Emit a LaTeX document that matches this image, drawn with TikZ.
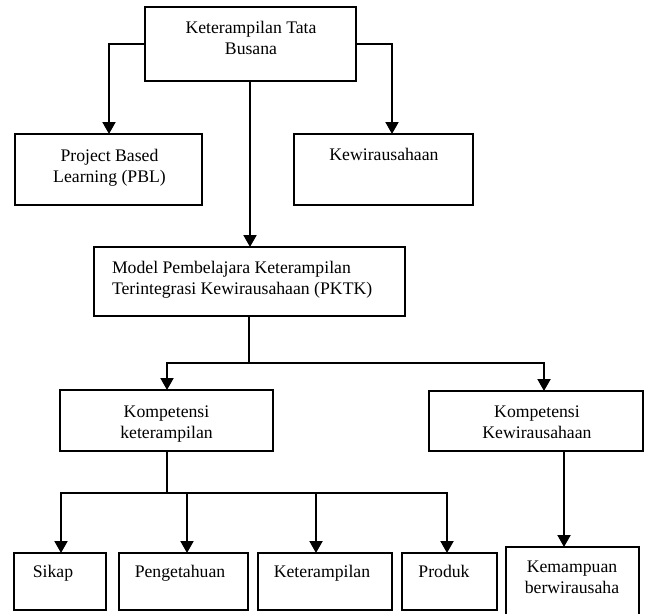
\documentclass[tikz,border=0pt]{standalone}
\usepackage{fontspec}
\setmainfont{Liberation Serif}
\usetikzlibrary{arrows.meta}
\begin{document}
\begin{tikzpicture}[x=1pt,y=-1pt,
  box/.style={draw, line width=2pt, rectangle, inner sep=0pt, outer sep=0pt, anchor=north west},
  txt/.style={inner sep=0pt, outer sep=0pt, font=\fontsize{17.7}{21}\selectfont, align=center, anchor=base},
  conn/.style={line width=2pt},
  arr/.style={line width=2pt, -{Triangle[width=13pt,length=12pt]}}]
\useasboundingbox[fill=white] (0,0) rectangle (645,613);
% boxes
\node[box, minimum width=211pt, minimum height=74pt] (top) at (145,7) {};
\node[box, minimum width=187pt, minimum height=71pt] (pbl) at (15,134) {};
\node[box, minimum width=179pt, minimum height=71pt] (kew) at (294,134) {};
\node[box, minimum width=311pt, minimum height=69pt] (model) at (94,247) {};
\node[box, minimum width=213pt, minimum height=61pt] (kk) at (60,390) {};
\node[box, minimum width=214pt, minimum height=60pt] (kw) at (429,391) {};
\node[box, minimum width=92pt, minimum height=57pt] (sikap) at (14,553) {};
\node[box, minimum width=129pt, minimum height=57pt] (peng) at (119,553) {};
\node[box, minimum width=134pt, minimum height=57pt] (ket) at (258,553) {};
\node[box, minimum width=95pt, minimum height=57pt] (prod) at (402,553) {};
\node[box, minimum width=133pt, minimum height=70pt] (kemp) at (506,547) {};
% texts (base anchor = baseline of the last line)
\node[txt] (topt) at (251,54) {Keterampilan Tata\\Busana};
\node[txt] (pblt) at (109.5,182) {Project Based\\Learning (PBL)};
\node[txt] (kewt) at (384,160) {Kewirausahaan};
\node[txt, align=left, anchor=base west] (modelt) at (112,294) {Model Pembelajara Keterampilan\\Terintegrasi Kewirausahaan (PKTK)};
\node[txt] (kkt) at (166.5,438) {Kompetensi\\keterampilan};
\node[txt] (kwt) at (537,438) {Kompetensi\\Kewirausahaan};
\node[txt] (sikapt) at (53,577) {Sikap};
\node[txt] (pengt) at (180,577) {Pengetahuan};
\node[txt] (kett) at (322,577) {Keterampilan};
\node[txt] (prodt) at (444,577) {Produk};
\node[txt] (kempt) at (572,593) {Kemampuan\\berwirausaha};
% junction coordinates
\coordinate (j1) at (249,363);
\coordinate (j2) at (167,493);
% connectors
\draw[arr] (top.west |- 0,44) -| (pbl.north -| 109,0);
\draw[arr] (top.east |- 0,44) -| (kew.north -| 392,0);
\draw[arr] (top.south -| 250,0) -- (model.north -| 250,0);
\draw[conn] (model.south -| j1) -- (j1);
\draw[arr] (j1) -| (kk.north -| 167,0);
\draw[arr] (j1) -| (kw.north -| 544,0);
\draw[conn] (kk.south -| j2) -- (j2);
\draw[arr] (j2) -| (sikap.north -| 61,0);
\draw[arr] (j2) -| (peng.north -| 187,0);
\draw[arr] (j2) -| (ket.north -| 316,0);
\draw[arr] (j2) -| (prod.north -| 447,0);
\draw[arr] (kw.south -| 564,0) -- (kemp.north -| 564,0);
\end{tikzpicture}
\end{document}
